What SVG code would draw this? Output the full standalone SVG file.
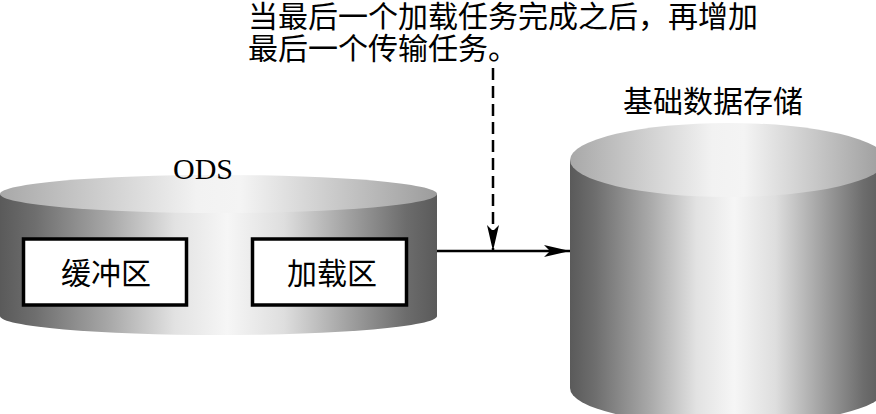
<svg xmlns="http://www.w3.org/2000/svg" width="876" height="414" viewBox="0 0 876 414">
<style>
.t{font-family:"Liberation Serif","Noto Sans CJK SC",serif;fill:#000;}
.cn{font-size:30px;}
.box{fill:#fff;stroke:#000;stroke-width:3.5;}
.ln{stroke:#000;stroke-width:2.5;fill:none;}
</style>
<defs>
<linearGradient id="body" x1="0" y1="0" x2="1" y2="0">
<stop offset="0" stop-color="#5a5a5a"/>
<stop offset="0.08" stop-color="#6e6e6e"/>
<stop offset="0.25" stop-color="#a8a8a8"/>
<stop offset="0.4" stop-color="#e2e2e2"/>
<stop offset="0.52" stop-color="#f6f6f6"/>
<stop offset="0.65" stop-color="#dedede"/>
<stop offset="0.8" stop-color="#a0a0a0"/>
<stop offset="0.93" stop-color="#6c6c6c"/>
<stop offset="1" stop-color="#5a5a5a"/>
</linearGradient>
<linearGradient id="top" x1="0" y1="0" x2="1" y2="0">
<stop offset="0" stop-color="#a8a8a8"/>
<stop offset="0.45" stop-color="#f2f2f2"/>
<stop offset="0.55" stop-color="#f4f4f4"/>
<stop offset="1" stop-color="#9c9c9c"/>
</linearGradient>
<marker id="ah" viewBox="0 0 26 12" refX="26" refY="6" markerWidth="26" markerHeight="12" markerUnits="userSpaceOnUse" orient="auto">
<path d="M0,0 L26,6 L0,12 L6,6 Z" fill="#000"/>
</marker>
</defs>
<g id="ods">
<path d="M0,194 L0,316 A218.5,19 0 0 0 437,316 L437,194 Z" fill="url(#body)"/>
<ellipse cx="218.5" cy="194" rx="218.5" ry="19" fill="url(#top)"/>
<text class="t" x="203" y="179" font-size="30" text-anchor="middle">ODS</text>
</g>
<g id="buffer">
<rect class="box" x="23.5" y="239" width="163" height="66"/>
<text class="t cn" x="106" y="284" text-anchor="middle">缓冲区</text>
</g>
<g id="load">
<rect class="box" x="252.5" y="239" width="154" height="66"/>
<text class="t cn" x="332" y="284" text-anchor="middle">加载区</text>
</g>
<g id="base">
<path d="M570,160 L570,388 A158,37 0 0 0 886,388 L886,160 Z" fill="url(#body)"/>
<ellipse cx="728" cy="160" rx="158" ry="37" fill="url(#top)"/>
<text class="t cn" x="713" y="112" text-anchor="middle">基础数据存储</text>
</g>
<g id="note">
<text class="t cn" x="248" y="27">当最后一个加载任务完成之后，再增加</text>
<text class="t cn" x="248" y="59">最后一个传输任务。</text>
</g>
<g id="connectors">
<line class="ln" x1="437" y1="251" x2="570" y2="251" marker-end="url(#ah)"/>
<line class="ln" x1="493" y1="68" x2="493" y2="251" stroke-dasharray="12,6" marker-end="url(#ah)"/>
</g>
</svg>
